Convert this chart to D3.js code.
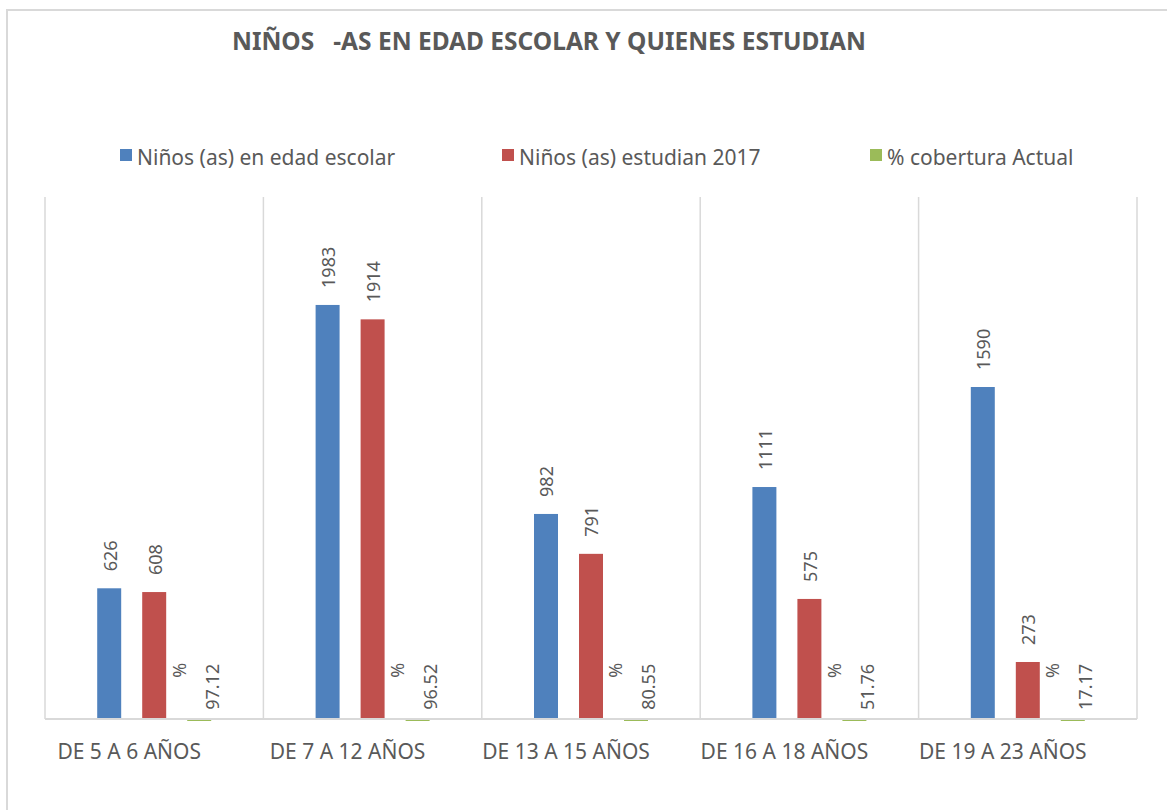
<!DOCTYPE html>
<html>
<head>
<meta charset="utf-8">
<script src="https://cdn.jsdelivr.net/npm/d3@7"></script>
<style>
body{margin:0;background:#fff;}
svg{display:block;font-family:"Noto Sans",sans-serif;}
</style>
</head>
<body>
<svg id="chart" width="1167" height="810"></svg>
<script>
// data
let categories=["DE 5 A 6 AÑOS","DE 7 A 12 AÑOS","DE 13 A 15 AÑOS","DE 16 A 18 AÑOS","DE 19 A 23 AÑOS"];
let edadEscolar=[626,1983,982,1111,1590];
let estudian=[608,1914,791,575,273];
let cobertura=[0.9712,0.9652,0.8055,0.5176,0.1717];
let seriesNames=["Niños (as) en edad escolar","Niños (as) estudian 2017","% cobertura Actual"];
let seriesColors=["#4f81bd","#c0504d","#9bbb59"];

let svg=d3.select("#chart");
let grey="#595959";
let plotL=45,plotR=1137,plotT=197,plotB=719;

// outer chart border
svg.append("rect").attr("x",7).attr("y",10).attr("width",1200).attr("height",850)
.attr("fill","none").attr("stroke","#d9d9d9").attr("stroke-width",2);

svg.append("text").attr("x",549).attr("y",50).attr("text-anchor","middle")
.style("font","bold 24.5px 'Noto Sans'").style("fill",grey)
.attr("xml:space","preserve").text("NIÑOS   -AS EN EDAD ESCOLAR Y QUIENES ESTUDIAN");

// legend
let legX=[120,502,870];
seriesNames.forEach((n,i)=>{
  svg.append("rect").attr("x",legX[i]).attr("y",149).attr("width",12).attr("height",12).attr("fill",seriesColors[i]);
  svg.append("text").attr("x",legX[i]+17).attr("y",165).text(n)
  .style("font","21px 'Noto Sans'").style("fill",grey);
});

let x=d3.scaleBand().domain(categories).range([plotL,plotR]).padding(0);
let inner=d3.scaleBand().domain([0,1,2]).range([0,x.bandwidth()]).paddingInner(0.467).paddingOuter(1.16);
let y=d3.scaleLinear().domain([0,2500]).range([plotB,plotT]);

// vertical gridlines at category boundaries
let bounds=categories.map(c=>x(c)).concat([plotR]);
svg.selectAll(".grid").data(bounds).enter().append("line")
.attr("x1",d=>d).attr("x2",d=>d).attr("y1",plotT).attr("y2",plotB)
.attr("stroke","#d9d9d9").attr("stroke-width",1.5);

let g=svg.append("g");
let sets=[edadEscolar,estudian];
sets.forEach((vals,s)=>{
  g.selectAll(".b"+s).data(vals).enter().append("rect")
  .attr("x",(d,i)=>x(categories[i])+inner(s)).attr("width",inner.bandwidth())
  .attr("y",d=>y(d)).attr("height",d=>y(0)-y(d)).attr("fill",seriesColors[s]);
  g.selectAll(".l"+s).data(vals).enter().append("text")
  .attr("transform",(d,i)=>`translate(${x(categories[i])+inner(s)+inner.bandwidth()/2+1},${y(d)-17}) rotate(-90)`)
  .attr("dy","0.35em").text(d=>d)
  .style("font","18px 'Noto Sans'").style("fill",grey);
});

// axis baseline
svg.append("line").attr("x1",plotL).attr("x2",plotR).attr("y1",plotB).attr("y2",plotB)
.attr("stroke","#d9d9d9").attr("stroke-width",2);

// coverage series (fractions, nearly flat)
g.selectAll(".b2").data(cobertura).enter().append("rect")
.attr("x",(d,i)=>x(categories[i])+inner(2)).attr("width",inner.bandwidth())
.attr("y",d=>y(0)).attr("height",d=>Math.max(2,y(0)-y(d))).attr("fill",seriesColors[2]);
g.selectAll(".l2").data(cobertura).enter().append("text")
.attr("transform",(d,i)=>`translate(${x(categories[i])+inner(2)+inner.bandwidth()/2+13},${y(d)-9}) rotate(-90)`)
.attr("dy","0.35em").text(d=>(d*100).toFixed(2))
.style("font","18px 'Noto Sans'").style("fill",grey);
g.selectAll(".p2").data(cobertura).enter().append("text")
.attr("transform",(d,i)=>`translate(${x(categories[i])+inner(2)+inner.bandwidth()/2-20},${y(d)-41}) rotate(-90)`)
.attr("dy","0.35em").text("%")
.style("font","18px 'Noto Sans'").style("fill",grey);

// category labels (sit a little left of the band centre)
svg.selectAll(".cat").data(categories).enter().append("text")
.attr("x",d=>x(d)+x.bandwidth()/2-25).attr("y",759).attr("text-anchor","middle")
.text(d=>d).style("font","21px 'Noto Sans'").style("fill",grey);
</script>
</body>
</html>
